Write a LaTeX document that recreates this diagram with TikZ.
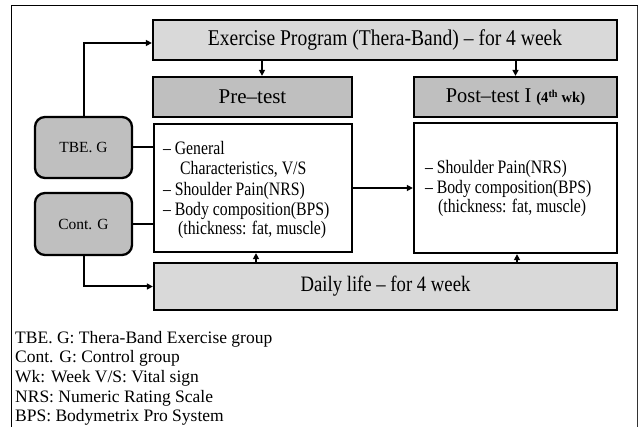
\documentclass[tikz,border=0pt]{standalone}
\usepackage{fontspec}
\setmainfont{Liberation Serif}
\usetikzlibrary{arrows.meta,calc}
\newcommand\sqz[2]{\scalebox{#1}[1]{#2}}
\newcommand\dsh{\makebox[14pt][l]{–}}
\begin{document}
\begin{tikzpicture}[x=1pt,y=-1pt,
  box/.style={draw=black,line width=2.3pt,rectangle,inner sep=0pt},
  light/.style={box,fill=black!15},
  dark/.style={box,fill=black!25},
  grp/.style={draw=black,line width=2.3pt,rounded corners=10pt,fill=black!25,inner sep=0pt,
     minimum width=97pt,font=\fontsize{15.5}{15.5}\selectfont},
  conn/.style={line width=2pt},
  arr/.style={conn,-{Triangle[length=6pt,width=6pt]}},
  ctext/.style={anchor=base west,inner sep=0pt,font=\fontsize{19}{19}\selectfont},
  legend/.style={anchor=base west,inner sep=0pt,font=\fontsize{17.5}{17.5}\selectfont}]
\useasboundingbox (0,0) rectangle (643,427);
% frame
\draw[line width=1pt] (11.7,427) -- (11.7,6) -- (637.5,6);
\draw[line width=1.6pt,black!80] (637.5,6) -- (637.5,427);

\node[light,minimum width=464pt,minimum height=40pt,font=\fontsize{22.5}{22.5}\selectfont] (ex) at (385,40)
  {\sqz{0.87}{Exercise Program (Thera-Band) – for 4 week}};
\node[dark,minimum width=199pt,minimum height=40pt,font=\fontsize{21}{21}\selectfont] (pre) at (252.5,97)
  {Pre–test};
\node[dark,minimum width=203pt,minimum height=40pt,font=\fontsize{21}{21}\selectfont] (post) at (515.5,97)
  {\sqz{0.97}{Post–test I {\bfseries\fontsize{15}{15}\selectfont (4\textsuperscript{th} wk)}}};
\node[box,fill=white,minimum width=198pt,minimum height=128pt] (prec) at (253,188) {};
\node[box,fill=white,minimum width=203pt,minimum height=130pt] (postc) at (515.5,188) {};
\node[light,minimum width=463pt,minimum height=47pt,font=\fontsize{22}{22}\selectfont] (daily) at (385.5,286.5)
  {\sqz{0.85}{Daily life – for 4 week}};
\node[grp,minimum height=61pt] (tbe) at (83.5,147.5) {TBE. G};
\node[grp,minimum height=62pt] (cont) at (83.5,224) {Cont. G};

% content texts
\node[ctext] (p1) at (163,155) {\sqz{0.83}{\dsh General}};
\node[ctext] (p2) at (180,175) {\sqz{0.83}{Characteristics, V/S}};
\node[ctext] (p3) at (163,196) {\sqz{0.83}{\dsh Shoulder Pain(NRS)}};
\node[ctext] (p4) at (163,216) {\sqz{0.83}{\dsh Body composition(BPS)}};
\node[ctext] (p5) at (178,235) {\sqz{0.83}{(thickness: fat, muscle)}};
\node[ctext] (q1) at (425,174) {\sqz{0.83}{\dsh Shoulder Pain(NRS)}};
\node[ctext] (q2) at (425,194) {\sqz{0.83}{\dsh Body composition(BPS)}};
\node[ctext] (q3) at (438,213) {\sqz{0.83}{(thickness: fat, muscle)}};

% connectors
\draw[arr] (tbe.north) |- ([yshift=-3pt]ex.west);
\draw[conn] (tbe.east) -- (tbe.east -| prec.west);
\draw[conn] (cont.east) -- (cont.east -| prec.west);
\draw[arr] (cont.south) |- (daily.west);
\draw[arr] ([xshift=9.5pt]pre.north |- ex.south) -- ([xshift=9.5pt]pre.north);
\draw[arr] (post.north |- ex.south) -- (post.north);
\draw[arr] (prec.east) -- (postc.west);
\draw[arr] ([xshift=3pt]prec.south |- daily.north) -- ([xshift=3pt]prec.south);
\draw[arr] ([xshift=1.5pt]postc.south |- daily.north) -- ([xshift=1.5pt]postc.south);

% legend
\node[legend] (l1) at (15,344) {TBE. G: Thera-Band Exercise group};
\node[legend] (l2) at (15,363) {Cont. G: Control group};
\node[legend] (l3) at (15,383) {Wk: Week V/S: Vital sign};
\node[legend] (l4) at (15,403) {NRS: Numeric Rating Scale};
\node[legend] (l5) at (15,422) {BPS: Bodymetrix Pro System};
\end{tikzpicture}
\end{document}
